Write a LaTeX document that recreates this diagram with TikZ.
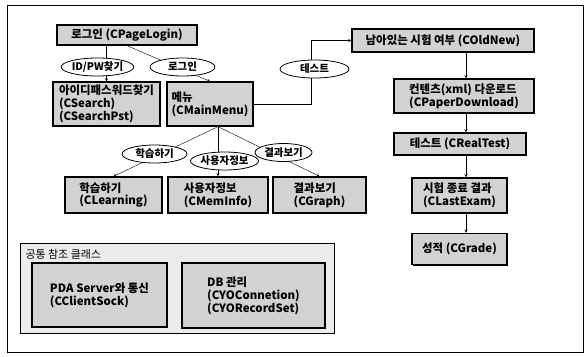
\documentclass[tikz,border=0pt]{standalone}
\usepackage{fontspec}
\setmainfont{Noto Sans CJK KR}
\usetikzlibrary{shapes.geometric, arrows, shadows}

\begin{document}
\begin{tikzpicture}[
    x=1bp, y=-1bp,
    font=\bfseries\fontsize{11.5}{13}\selectfont,
    cls/.style={rectangle, draw, line width=1.3pt, fill=gray!35, align=left, inner sep=1.5bp,
        drop shadow={shadow xshift=1.2bp, shadow yshift=-1.2bp, fill=black, opacity=1}},
    tag/.style={ellipse, draw, thick, fill=white, inner sep=0pt, minimum height=18bp,
        font=\bfseries\fontsize{10.5}{12}\selectfont},
    arrow/.style={thin,->,>=stealth}
]
    \useasboundingbox (0,0) rectangle (588,356);
    \draw[thin] (7,5) rectangle (583,352);

    % login part
    \node[cls, minimum width=140bp, minimum height=20bp] (login) at (127,35) {로그인 (CPageLogin)};
    \node[cls, minimum width=107bp, minimum height=44bp] (search) at (106.5,104) {아이디패스워드찾기\\(CSearch)\\(CSearchPst)};
    \node[cls, minimum width=86bp, minimum height=44bp] (menu) at (210,104) {메뉴\\(CMainMenu)};

    % test column
    \node[cls, minimum width=182bp, minimum height=23bp] (check) at (443,40.5) {남아있는 시험 여부 (COldNew)};
    \node[cls, minimum width=140bp, minimum height=34bp] (paper) at (464,96) {컨텐츠(xml) 다운로드\\(CPaperDownload)};
    \node[cls, minimum width=132bp, minimum height=22bp] (realtest) at (460,144) {테스트 (CRealTest)};
    \node[cls, minimum width=95bp, minimum height=35bp] (lastexam) at (459.5,195.5) {시험 종료 결과\\(CLastExam)};
    \node[cls, minimum width=95bp, minimum height=31bp] (grade) at (459.5,249) {성적 (CGrade)};
    \coordinate (col) at (466,0);

    % menu items
    \node[cls, minimum width=97bp, minimum height=36bp] (learn) at (113.5,195) {학습하기\\(CLearning)};
    \node[cls, minimum width=100bp, minimum height=36bp] (meminfo) at (218,195) {사용자정보\\(CMemInfo)};
    \node[cls, minimum width=93bp, minimum height=36bp] (graph) at (319.5,195) {결과보기\\(CGraph)};

    % common classes
    \node[draw, thick, fill=gray!15, minimum width=314bp, minimum height=90bp] (common) at (177,288) {};
    \node[anchor=west, font=\fontsize{11}{13}\selectfont] (commontitle) at (22,254) {공통 참조 클래스};
    \node[cls, minimum width=135bp, minimum height=64bp] (sock) at (99.5,295) {PDA Server와 통신\\(CClientSock)};
    \node[cls, minimum width=143bp, minimum height=65bp] (db) at (253.5,295.5) {DB 관리\\(CYOConnetion)\\(CYORecordSet)};

    % connectors
    \draw[arrow] (login.south -| search.north) -- (search.north);
    \draw[arrow] (login.south) -- (menu.north);
    \draw[arrow] (menu.east) -- ++(58,0) |- (check.west);
    \draw[arrow] (check.south -| col) -- (paper.north -| col);
    \draw[arrow] (paper.south -| col) -- (realtest.north -| col);
    \draw[arrow] (realtest.south -| col) -- (lastexam.north -| col);
    \draw[arrow] (lastexam.south -| col) -- (grade.north -| col);
    \draw[arrow] (menu.south -| meminfo.north) -- (learn.north);
    \draw[arrow] (menu.south -| meminfo.north) -- (meminfo.north);
    \draw[arrow] (menu.south -| meminfo.north) -- (graph.north);

    % labels on connectors
    \node[tag, minimum width=69bp] (idpw) at (97.5,67) {ID/PW찾기};
    \node[tag, minimum width=65bp] (dologin) at (182.5,67) {로그인};
    \node[tag, minimum width=69bp] (dotest) at (314.5,69) {테스트};
    \node[tag, minimum width=65bp] (dolearn) at (154.5,154) {학습하기};
    \node[tag, minimum width=65bp] (douser) at (224.5,161) {사용자정보};
    \node[tag, minimum width=57bp] (doresult) at (283.5,152.5) {결과보기};
\end{tikzpicture}
\end{document}
